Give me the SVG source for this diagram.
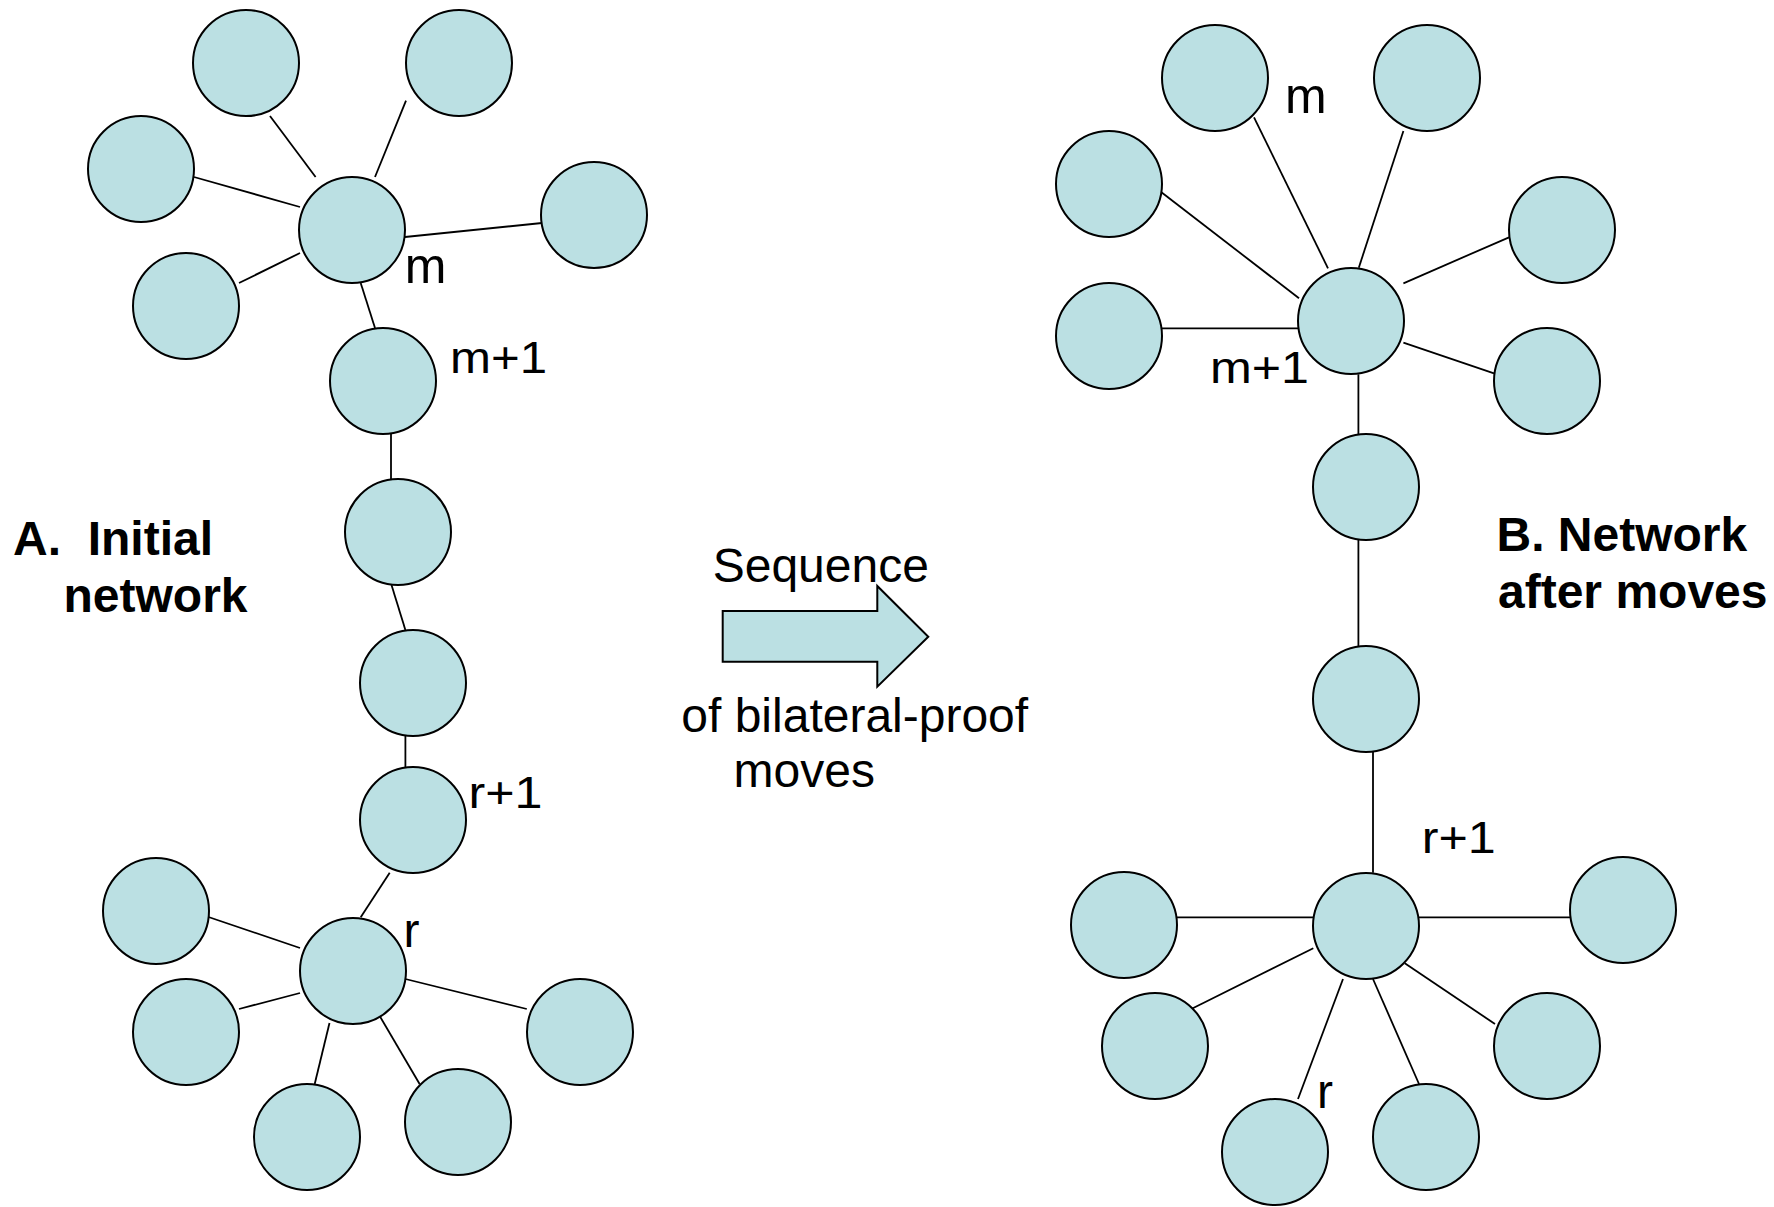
<svg xmlns="http://www.w3.org/2000/svg" width="1774" height="1207" viewBox="0 0 1774 1207">
<style>
.n{fill:#BBE0E3;stroke:#000;stroke-width:2}
.c line{stroke:#000;stroke-width:1.8}
.t{font-family:"Liberation Sans",Arial,sans-serif;fill:#000}
.b{font-family:"Liberation Sans",Arial,sans-serif;font-weight:bold;font-size:48px;fill:#000}
.lab{font-size:44px}
</style>
<rect width="1774" height="1207" fill="#fff"/>
<g id="connectors" class="c">
<line x1="270" y1="116" x2="315.6" y2="177"/>
<line x1="406" y1="100.7" x2="375" y2="177"/>
<line x1="194" y1="177" x2="300" y2="207"/>
<line x1="405" y1="237" x2="542" y2="223"/>
<line x1="239" y1="283" x2="300" y2="253"/>
<line x1="360.7" y1="283" x2="375" y2="328"/>
<line x1="391" y1="433" x2="391" y2="479"/>
<line x1="391.5" y1="585" x2="405.4" y2="630"/>
<line x1="405.4" y1="736" x2="405.4" y2="767"/>
<line x1="389.7" y1="872.7" x2="360.7" y2="917.3"/>
<line x1="208.5" y1="917" x2="300" y2="948"/>
<line x1="239" y1="1009" x2="300" y2="993"/>
<line x1="314.7" y1="1084" x2="329.5" y2="1023"/>
<line x1="419.6" y1="1084" x2="375" y2="1008"/>
<line x1="405.4" y1="979" x2="526.8" y2="1009"/>
<line x1="1254" y1="117.3" x2="1328" y2="268.3"/>
<line x1="1403.4" y1="131" x2="1358.8" y2="267.7"/>
<line x1="1161.4" y1="192.3" x2="1299" y2="298.3"/>
<line x1="1161.4" y1="328.3" x2="1298" y2="328.3"/>
<line x1="1509" y1="237.3" x2="1403.4" y2="283.3"/>
<line x1="1494" y1="373.3" x2="1403.4" y2="342.7"/>
<line x1="1358.4" y1="374.3" x2="1358.4" y2="434"/>
<line x1="1358.4" y1="540" x2="1358.4" y2="646"/>
<line x1="1373" y1="751.7" x2="1373" y2="872.7"/>
<line x1="1176" y1="917.3" x2="1313" y2="917.3"/>
<line x1="1419" y1="917.3" x2="1570" y2="917.3"/>
<line x1="1191.3" y1="1009" x2="1313.3" y2="948.3"/>
<line x1="1298" y1="1099" x2="1343" y2="979"/>
<line x1="1373" y1="979" x2="1419" y2="1084"/>
<line x1="1404.8" y1="963.3" x2="1495" y2="1024"/>
</g>
<g id="A-n1"><circle class="n" cx="246" cy="63" r="53"/></g>
<g id="A-n2"><circle class="n" cx="459" cy="63" r="53"/></g>
<g id="A-n3"><circle class="n" cx="141" cy="169" r="53"/></g>
<g id="A-m"><circle class="n" cx="352" cy="230" r="53"/><text class="t" x="404.7" y="283.3" font-size="50">m</text></g>
<g id="A-n5"><circle class="n" cx="594" cy="215" r="53"/></g>
<g id="A-n6"><circle class="n" cx="186" cy="306" r="53"/></g>
<g id="A-m1"><circle class="n" cx="383" cy="381" r="53"/><text class="t lab" x="450" y="372.7" textLength="97" lengthAdjust="spacingAndGlyphs">m+1</text></g>
<g id="A-n8"><circle class="n" cx="398" cy="532" r="53"/></g>
<g id="A-n9"><circle class="n" cx="413" cy="683" r="53"/></g>
<g id="A-r1"><circle class="n" cx="413" cy="820" r="53"/><text class="t lab" x="468.5" y="808.3" textLength="74" lengthAdjust="spacingAndGlyphs">r+1</text></g>
<g id="A-r"><circle class="n" cx="353" cy="971" r="53"/><text class="t" x="403.5" y="946.7" font-size="48">r</text></g>
<g id="A-n12"><circle class="n" cx="156" cy="911" r="53"/></g>
<g id="A-n13"><circle class="n" cx="186" cy="1032" r="53"/></g>
<g id="A-n14"><circle class="n" cx="307" cy="1137" r="53"/></g>
<g id="A-n15"><circle class="n" cx="458" cy="1122" r="53"/></g>
<g id="A-n16"><circle class="n" cx="580" cy="1032" r="53"/></g>
<g id="B-n1"><circle class="n" cx="1215" cy="78" r="53"/><text class="t" x="1285" y="113.3" font-size="50">m</text></g>
<g id="B-n2"><circle class="n" cx="1427" cy="78" r="53"/></g>
<g id="B-n3"><circle class="n" cx="1109" cy="184" r="53"/></g>
<g id="B-n4"><circle class="n" cx="1109" cy="336" r="53"/></g>
<g id="B-m1"><circle class="n" cx="1351" cy="321" r="53"/><text class="t lab" x="1210" y="383.3" textLength="99" lengthAdjust="spacingAndGlyphs">m+1</text></g>
<g id="B-n6"><circle class="n" cx="1562" cy="230" r="53"/></g>
<g id="B-n7"><circle class="n" cx="1547" cy="381" r="53"/></g>
<g id="B-n8"><circle class="n" cx="1366" cy="487" r="53"/></g>
<g id="B-n9"><circle class="n" cx="1366" cy="699" r="53"/></g>
<g id="B-r1"><circle class="n" cx="1366" cy="926" r="53"/><text class="t lab" x="1421.8" y="852.7" textLength="74" lengthAdjust="spacingAndGlyphs">r+1</text></g>
<g id="B-n11"><circle class="n" cx="1124" cy="925" r="53"/></g>
<g id="B-n12"><circle class="n" cx="1623" cy="910" r="53"/></g>
<g id="B-n13"><circle class="n" cx="1155" cy="1046" r="53"/></g>
<g id="B-r"><circle class="n" cx="1275" cy="1152" r="53"/><text class="t" x="1317" y="1108.3" font-size="48">r</text></g>
<g id="B-n15"><circle class="n" cx="1426" cy="1137" r="53"/></g>
<g id="B-n16"><circle class="n" cx="1547" cy="1046" r="53"/></g>
<g id="arrow">
<polygon class="n" stroke-width="1.8" points="722.7,611 877.3,611 877.3,586 928.3,636.7 877.3,686.7 877.3,661.7 722.7,661.7"/>
<text class="t" x="712.7" y="581.7" font-size="48">Sequence</text>
<text class="t" x="681.3" y="731.7" font-size="48">of bilateral-proof</text>
<text class="t" x="733.5" y="786.7" font-size="48">moves</text>
</g>
<g id="titles">
<text class="b" x="13" y="555" xml:space="preserve">A.  Initial</text>
<text class="b" x="63.5" y="611.7">network</text>
<text class="b" x="1496.5" y="551">B. Network</text>
<text class="b" x="1498" y="608.3">after moves</text>
</g>
</svg>
